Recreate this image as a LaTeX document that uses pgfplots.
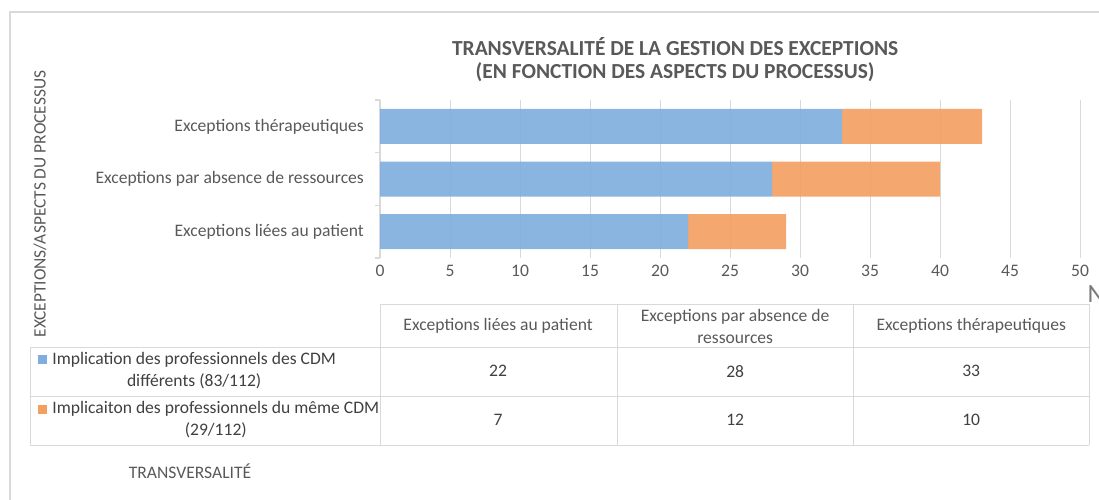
\documentclass[border=0pt]{standalone}
\usepackage{pgfplots}
\pgfplotsset{compat=1.18}
\usepackage{fontspec}
\setmainfont{Carlito}
\definecolor{blueS}{RGB}{126,173,222}
\definecolor{orangeS}{RGB}{243,159,96}
\definecolor{txt}{RGB}{89,89,89}
\definecolor{tbl}{RGB}{64,64,64}
\definecolor{lin}{RGB}{217,217,217}
\newcommand{\tfont}{\fontsize{10}{12.5}\selectfont}

\begin{document}
\begin{tikzpicture}
\path[use as bounding box] (0,0) rectangle (21.98cm,-9.98cm);
\clip (0,0) rectangle (21.98cm,-9.98cm);
\begin{scope}[x=0.02cm,y=-0.02cm]
\coordinate (axSW) at (380,258);
% chart frame
\draw[lin, line width=0.03cm] (10,520) -- (10,12) -- (1120,12);
% title
\node[txt, font=\fontsize{12.2}{14}\selectfont\bfseries] at (675,47) {TRANSVERSALITÉ DE LA GESTION DES EXCEPTIONS};
\node[txt, font=\fontsize{12.2}{14}\selectfont\bfseries] at (675,72) {(EN FONCTION DES ASPECTS DU PROCESSUS)};
% axis titles
\node[txt, font=\fontsize{9.9}{11}\selectfont, rotate=90] at (40,204) {EXCEPTIONS/ASPECTS DU PROCESSUS};
\node[txt, font=\tfont] at (190,471) {TRANSVERSALITÉ};
\node[txt!80, font=\fontsize{15}{17}\selectfont, anchor=west, inner sep=0pt] at (1087,294) {N};
% data table
\draw[lin, line width=0.02cm] (380,304) -- (1089,304)
  (30,347) -- (1089,347) (30,396) -- (1089,396) (30,445) -- (1089,445)
  (380,304) -- (380,445) (617,304) -- (617,445) (853,304) -- (853,445)
  (1089,304) -- (1089,445) (30,347) -- (30,445);
\node[txt, font=\tfont] at (498,326) {Exceptions liées au patient};
\node[txt, font=\tfont, align=center] at (735,326) {Exceptions par absence de\\ressources};
\node[txt, font=\tfont] at (971,326) {Exceptions thérapeutiques};
\node[tbl, font=\tfont] at (498,371) {22};
\node[tbl, font=\tfont] at (735,371) {28};
\node[tbl, font=\tfont] at (971,371) {33};
\node[tbl, font=\tfont] at (498,420) {7};
\node[tbl, font=\tfont] at (735,420) {12};
\node[tbl, font=\tfont] at (971,420) {10};
\fill[blueS] (38,355) rectangle (47,364);
\fill[orangeS] (38,405) rectangle (47,414);
\node[tbl, font=\tfont, align=center, anchor=west, inner sep=0pt] at (52,371) {Implication des professionnels des CDM\\différents (83/112)};
\node[tbl, font=\tfont, align=center, anchor=west, inner sep=0pt] at (52,420) {Implicaiton des professionnels du même CDM\\(29/112)};
\end{scope}

\begin{axis}[
    at={(axSW)}, anchor=south west,
    scale only axis,
    width=14cm, height=3.16cm,
    xbar stacked,
    bar width=0.7cm,
    xmin=0, xmax=50,
    ymin=-0.5, ymax=2.5,
    xtick={0,5,...,50},
    ytick={0,1,2},
    yticklabels={Exceptions liées au patient, Exceptions par absence de ressources, Exceptions thérapeutiques},
    xmajorgrids,
    grid style={lin, line width=0.02cm},
    axis lines*=left,
    x axis line style={draw=none},
    y axis line style={lin, line width=0.03cm},
    major tick length=0pt,
    extra y ticks={-0.5,0.5,1.5,2.5},
    extra y tick labels={},
    extra y tick style={major tick length=0.1cm, tick align=outside, tick style={lin, line width=0.03cm}},
    ticklabel style={font=\tfont, text=txt},
    yticklabel style={xshift=-0.2cm},
    xticklabel style={yshift=-0.02cm},
    /pgf/number format/assume math mode=true,
]
\addplot[fill=blueS, fill opacity=0.9, draw=none] coordinates {(22,0) (28,1) (33,2)};
\addplot[fill=orangeS, fill opacity=0.9, draw=none] coordinates {(7,0) (12,1) (10,2)};
\end{axis}
\end{tikzpicture}
\end{document}
